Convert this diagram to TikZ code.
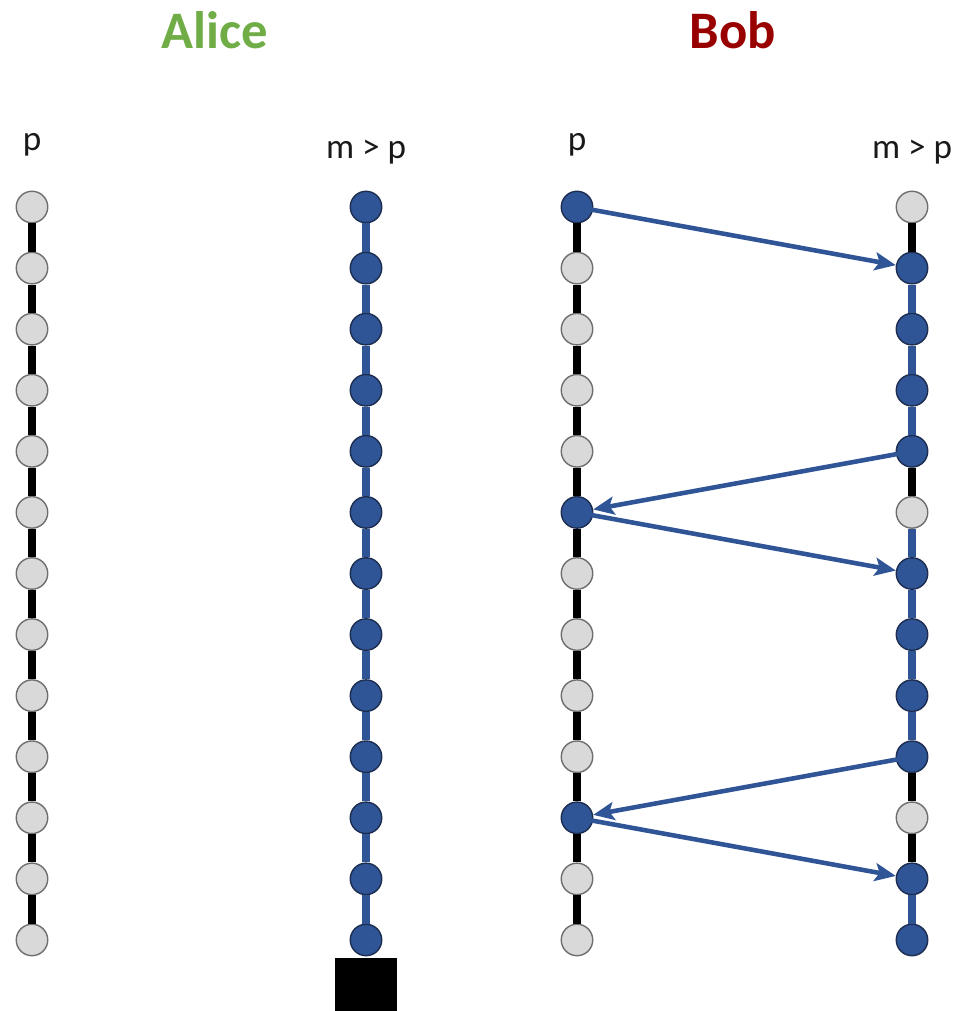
\documentclass[tikz,border=0pt]{standalone}
\usepackage{fontspec}
\setmainfont{Carlito}
\usetikzlibrary{arrows.meta,positioning}
\definecolor{offgrey}{RGB}{217,217,217}
\definecolor{offedge}{RGB}{110,110,110}
\definecolor{onblue}{RGB}{47,85,151}
\definecolor{onedge}{RGB}{28,45,80}
\definecolor{alicegreen}{RGB}{112,173,71}
\definecolor{bobred}{RGB}{153,0,0}
\definecolor{labink}{RGB}{25,25,25}
\tikzset{
  tick/.style={circle,inner sep=0pt,minimum size=6.3mm,line width=0.8pt},
  offtick/.style={tick,fill=offgrey,draw=offedge},
  ontick/.style={tick,fill=onblue,draw=onedge},
  wire/.style={line width=4.8pt,black},
  bwire/.style={line width=4.2pt,onblue},
  msg/.style={-{Stealth[length=4.2mm,width=3.6mm,inset=0.9mm]},line width=2.6pt,onblue,shorten <=-1pt},
  who/.style={font=\fontsize{30}{36}\selectfont\bfseries,anchor=base},
  proc/.style={font=\fontsize{20}{24}\selectfont,anchor=base,text=labink},
}

\begin{document}
\begin{tikzpicture}[x=0.02cm,y=-0.02cm]
\useasboundingbox (0,0) rectangle (970,1011);

% headings
\node[who,text=alicegreen] (alice) at (215,48) {Alice};
\node[who,text=bobred] (bob) at (733,48) {Bob};
\node[proc] (lab-a1) at (32,150) {p};
\node[proc] (lab-a2) at (366,158) {m > p};
\node[proc] (lab-b1) at (577,150) {p};
\node[proc] (lab-b2) at (912,158) {m > p};

% the four timelines
\foreach \i in {0,...,12}{
  \pgfmathsetmacro\y{207+61.08*\i}
  \pgfmathtruncatemacro\r{mod(\i,5)}
  \node[offtick] (a1-\i) at (32,\y) {};
  \node[ontick] (a2-\i) at (366,\y) {};
  \ifnum\r=0
    \node[ontick] (b1-\i) at (577,\y) {};
    \node[offtick] (b2-\i) at (912,\y) {};
  \else
    \node[offtick] (b1-\i) at (577,\y) {};
    \node[ontick] (b2-\i) at (912,\y) {};
  \fi
}
\foreach \i [evaluate=\i as \j using int(\i+1)] in {0,...,11}{
  \draw[wire] (a1-\i) -- (a1-\j);
  \draw[bwire] (a2-\i) -- (a2-\j);
  \draw[wire] (b1-\i) -- (b1-\j);
}
\foreach \i [evaluate=\i as \j using int(\i+1)] in {0,4,9,10}
  \draw[wire] (b2-\i) -- (b2-\j);
\foreach \i [evaluate=\i as \j using int(\i+1)] in {1,2,3,5,6,7,8,11}
  \draw[bwire] (b2-\i) -- (b2-\j);

% messages between Bob's two clocks
\draw[msg] (b1-0) -- (b2-1);
\draw[msg] (b2-4) -- (b1-5);
\draw[msg] (b1-5) -- (b2-6);
\draw[msg] (b2-9) -- (b1-10);
\draw[msg] (b1-10) -- (b2-11);

% Alice halts
\node[fill=black,inner sep=0pt,minimum width=1.24cm,minimum height=1.12cm,below=0.3mm of a2-12] (halt) {};
\end{tikzpicture}
\end{document}
